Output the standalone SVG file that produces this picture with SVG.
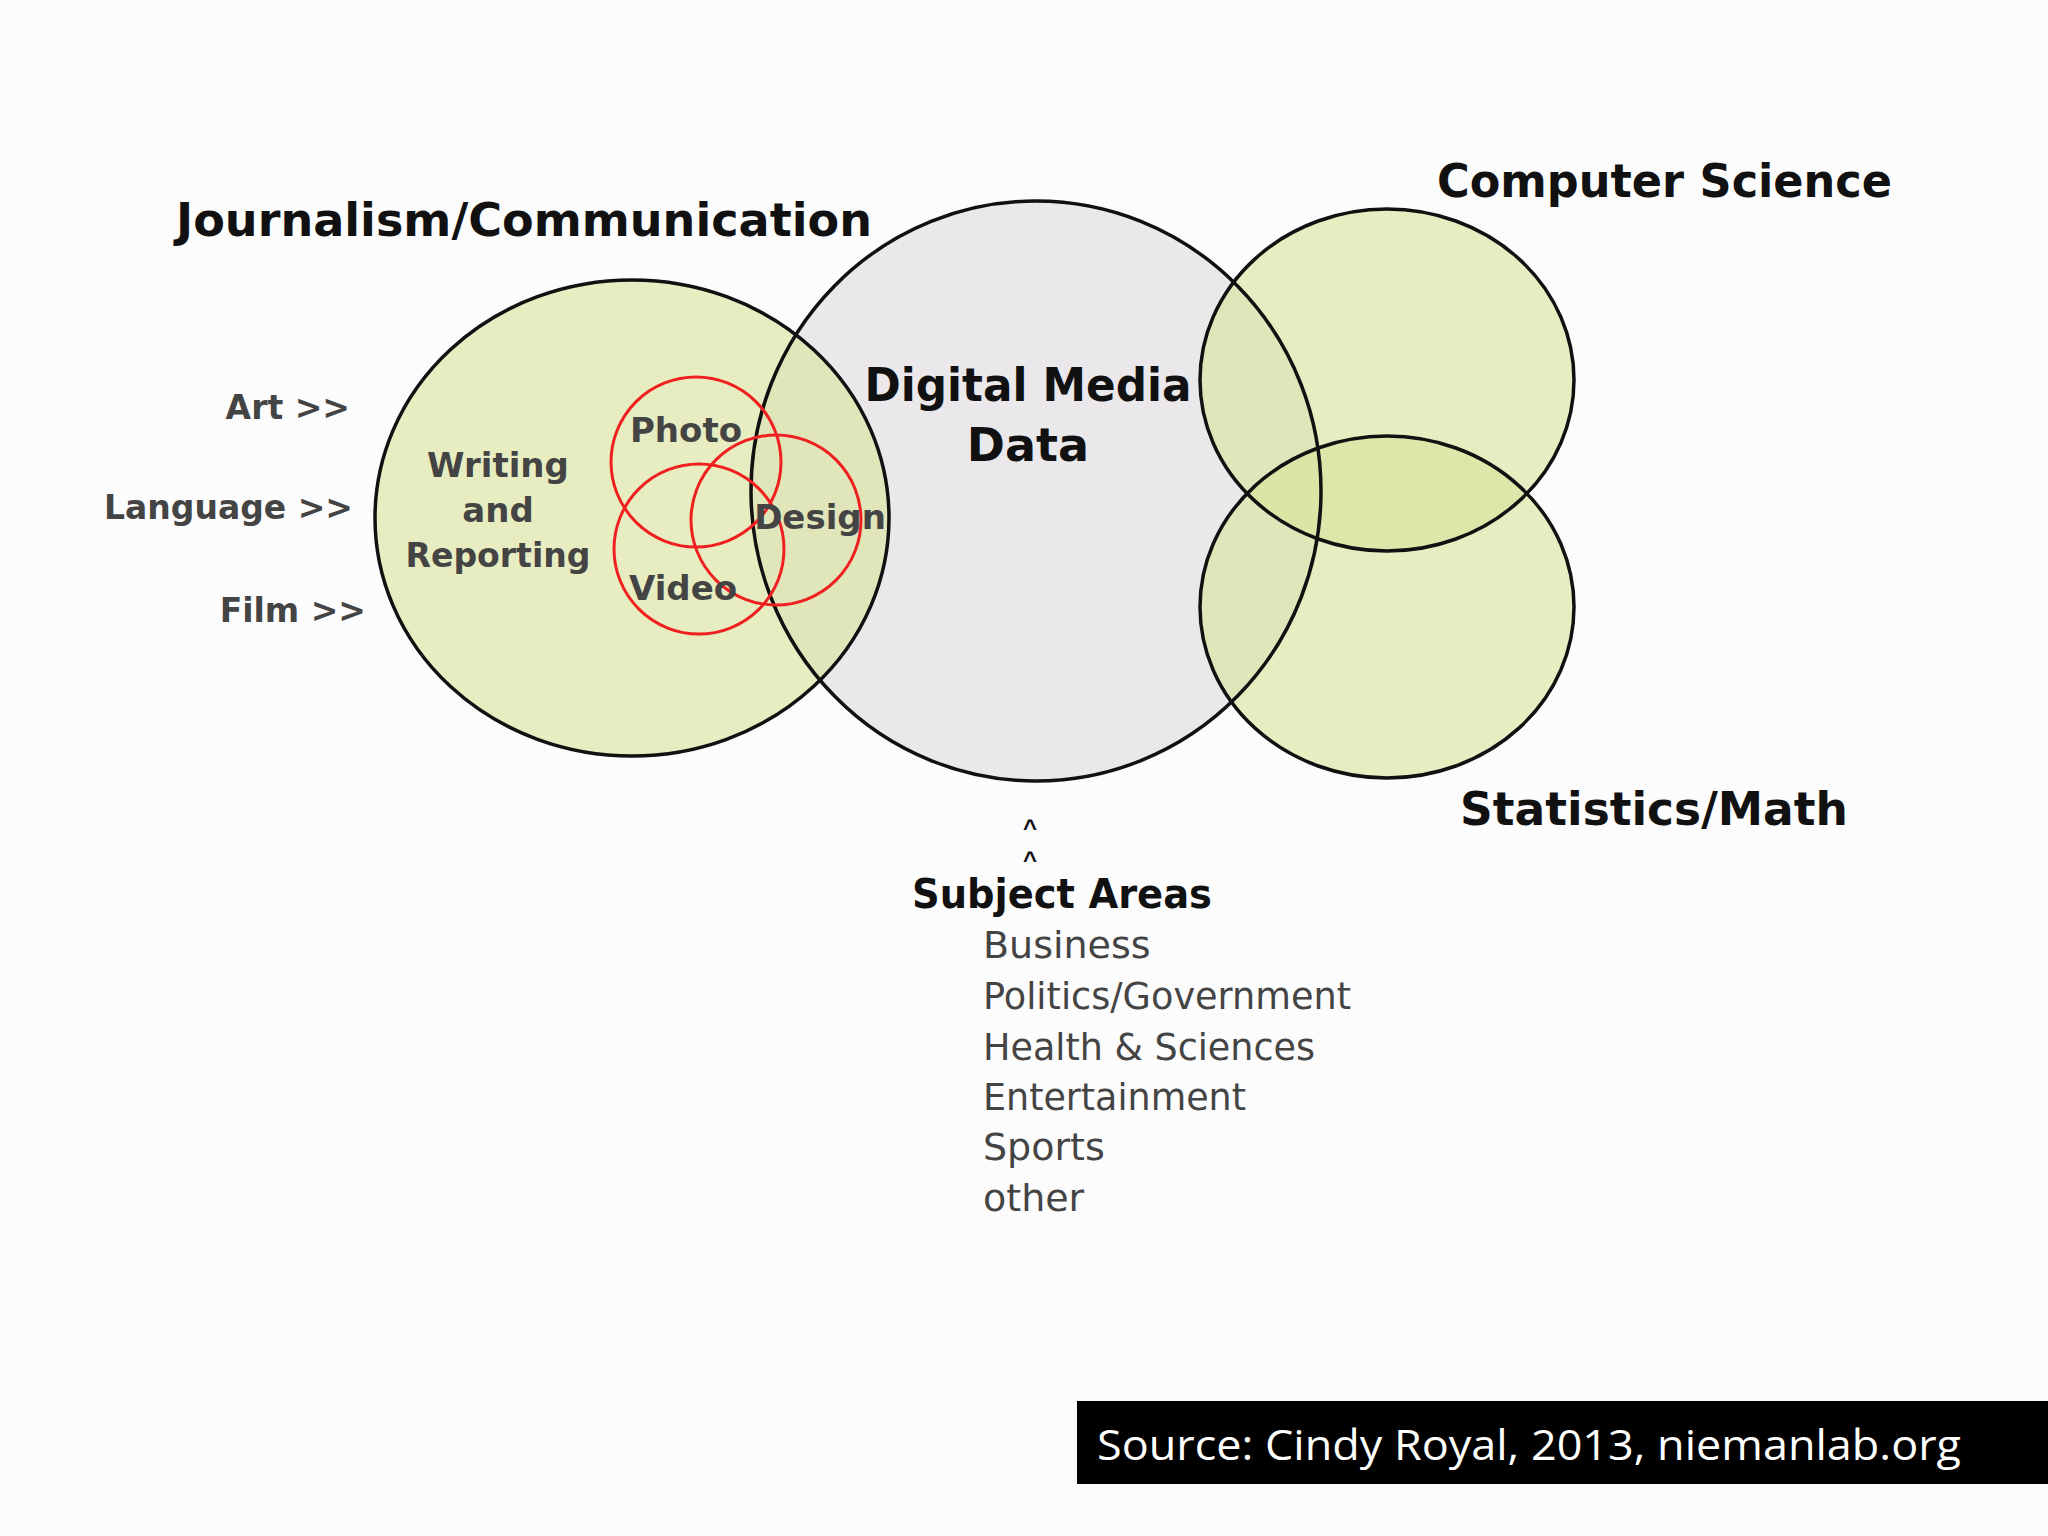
<svg xmlns="http://www.w3.org/2000/svg" width="2048" height="1536" viewBox="0 0 2048 1536">
<style>
.c{stroke:#111;stroke-width:3.5;fill:none}
.g{fill:#d9e29a;fill-opacity:0.6}
.r{fill:none;stroke:#f02020;stroke-width:3}
.h{font-family:"DejaVu Sans",Verdana,sans-serif;font-weight:bold;fill:#111}
.s{font-family:"DejaVu Sans",Verdana,sans-serif;font-weight:bold;fill:#444}
.l{font-family:"DejaVu Sans",Verdana,sans-serif;fill:#444;font-size:38px}
</style>
<rect width="2048" height="1536" fill="#fdfcfd"/>
<g id="digital-media"><ellipse cx="1036" cy="491" rx="285" ry="290" fill="#ebe8ec"/></g>
<g id="journalism"><ellipse class="g" cx="632" cy="518" rx="257" ry="238"/></g>
<g id="computer-science"><ellipse class="g" cx="1387" cy="380" rx="187" ry="171"/></g>
<g id="statistics"><ellipse class="g" cx="1387" cy="607" rx="187" ry="171"/></g>
<g id="outlines">
<ellipse class="c" cx="1036" cy="491" rx="285" ry="290"/>
<ellipse class="c" cx="632" cy="518" rx="257" ry="238"/>
<ellipse class="c" cx="1387" cy="380" rx="187" ry="171"/>
<ellipse class="c" cx="1387" cy="607" rx="187" ry="171"/>
</g>
<g id="red-circles">
<circle class="r" cx="696" cy="462" r="85"/>
<circle class="r" cx="699" cy="549" r="85"/>
<circle class="r" cx="776" cy="520" r="85"/>
</g>
<g id="labels">
<text class="h" x="176" y="236" font-size="46" textLength="696" lengthAdjust="spacingAndGlyphs">Journalism/Communication</text>
<text class="h" x="1437" y="197" font-size="46" textLength="455" lengthAdjust="spacingAndGlyphs">Computer Science</text>
<text class="h" x="1460" y="825" font-size="46" textLength="388" lengthAdjust="spacingAndGlyphs">Statistics/Math</text>
<text class="h" x="1028" y="401" font-size="46" text-anchor="middle" textLength="327" lengthAdjust="spacingAndGlyphs">Digital Media</text>
<text class="h" x="1028" y="461" font-size="46" text-anchor="middle">Data</text>
<text class="s" x="350" y="419" font-size="33" text-anchor="end">Art &gt;&gt;</text>
<text class="s" x="353" y="519" font-size="33" text-anchor="end">Language &gt;&gt;</text>
<text class="s" x="366" y="622" font-size="33" text-anchor="end">Film &gt;&gt;</text>
<text class="s" x="498" y="477" font-size="34" text-anchor="middle">Writing</text>
<text class="s" x="498" y="522" font-size="34" text-anchor="middle">and</text>
<text class="s" x="498" y="567" font-size="34" text-anchor="middle" textLength="185" lengthAdjust="spacingAndGlyphs">Reporting</text>
<text class="s" x="686" y="442" font-size="34" text-anchor="middle">Photo</text>
<text class="s" x="820" y="529" font-size="34" text-anchor="middle">Design</text>
<text class="s" x="683" y="600" font-size="34" text-anchor="middle">Video</text>
<text x="1030" y="836" font-family="'Liberation Sans',sans-serif" font-weight="bold" font-size="24" fill="#111" text-anchor="middle">^</text>
<text x="1030" y="868" font-family="'Liberation Sans',sans-serif" font-weight="bold" font-size="24" fill="#111" text-anchor="middle">^</text>
<text class="h" x="912" y="908" font-size="40" textLength="300" lengthAdjust="spacingAndGlyphs">Subject Areas</text>
<text class="l" x="983" y="958">Business</text>
<text class="l" x="983" y="1009" textLength="368" lengthAdjust="spacingAndGlyphs">Politics/Government</text>
<text class="l" x="983" y="1060" textLength="332" lengthAdjust="spacingAndGlyphs">Health &amp; Sciences</text>
<text class="l" x="983" y="1110" textLength="263" lengthAdjust="spacingAndGlyphs">Entertainment</text>
<text class="l" x="983" y="1160">Sports</text>
<text class="l" x="983" y="1211">other</text>
</g>
<g id="source">
<rect x="1077" y="1401" width="971" height="83" fill="#000"/>
<text x="1097" y="1460" font-family="'Open Sans',sans-serif" font-size="42" fill="#fff" textLength="864" lengthAdjust="spacingAndGlyphs">Source: Cindy Royal, 2013, niemanlab.org</text>
</g>
<g id="connectors"/>
</svg>
